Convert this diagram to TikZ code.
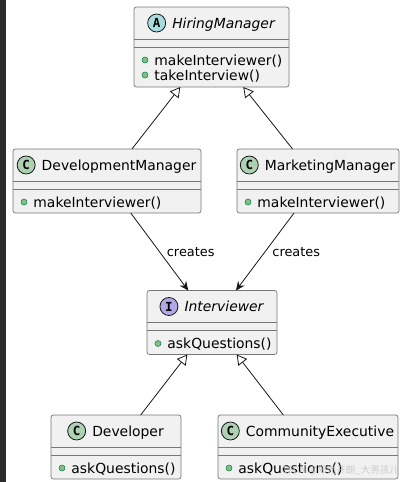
\documentclass[tikz,border=0pt]{standalone}
\usepackage{fontspec}
\setmainfont{DejaVu Sans}
\newfontfamily\iconfont{DejaVu Sans Mono}
\newfontfamily\cjk{Noto Sans CJK SC}
\usetikzlibrary{positioning,arrows.meta}

\definecolor{boxfill}{HTML}{F1F1F1}
\definecolor{boxline}{HTML}{777777}
\definecolor{edgeline}{HTML}{181818}
\definecolor{absicon}{HTML}{A9DCDF}
\definecolor{clsicon}{HTML}{ADD1B2}
\definecolor{itficon}{HTML}{B4A7E5}
\definecolor{dotfill}{HTML}{84BE84}
\definecolor{dotline}{HTML}{038048}
\definecolor{stripdark}{HTML}{2B2B2B}

\tikzset{
  classbox/.style={draw=boxline, line width=0.7pt, fill=boxfill, rounded corners=2.5pt,
    inner sep=0pt, outer sep=0pt, minimum height=64pt},
  sepline/.style={draw=boxline, line width=0.7pt},
  classicon/.style={circle, draw=edgeline, line width=0.8pt, minimum size=18pt, inner sep=0pt,
    font=\iconfont\bfseries\fontsize{12.5}{12.5}\selectfont},
  classname/.style={inner sep=0pt, text height=10pt, text depth=0pt,
    font=\fontsize{13.9}{16}\selectfont},
  member/.style={inner sep=0pt, text height=10pt, text depth=0pt,
    font=\fontsize{13.9}{16}\selectfont},
  pubdot/.style={circle, fill=dotfill, draw=dotline, line width=0.5pt, minimum size=6pt, inner sep=0pt},
  extends/.style={draw=edgeline, line width=0.8pt, -{Triangle[open, length=10pt, width=11pt]}},
  creates/.style={draw=edgeline, line width=0.8pt, -{Stealth[length=9pt, width=8pt, inset=3pt]}},
  edgelabel/.style={inner sep=0pt, anchor=west, xshift=7pt, font=\fontsize{12.9}{15}\selectfont}
}

\begin{document}
\begin{tikzpicture}[x=1pt, y=-1pt]
    % --- 画布 ---
    \fill[white] (0,0) rectangle (405,482);
    \useasboundingbox (0,0) rectangle (405,482);
    \fill[stripdark] (0,0) rectangle (6,482);

    % --- HiringManager (abstract) ---
    \node[classbox, minimum width=155pt, minimum height=80pt] (hm) at (211.5,47) {};
    \draw[sepline] ([yshift=-32pt]hm.north west) -- ([yshift=-32pt]hm.north east);
    \draw[sepline] ([yshift=-40pt]hm.north west) -- ([yshift=-40pt]hm.north east);
    \node[classname, font=\fontsize{13.9}{16}\selectfont\itshape] (hm-name) at ([xshift=12pt, yshift=-16pt]hm.north) {HiringManager};
    \node[classicon, fill=absicon, left=6pt of hm-name] (hm-icon) {A};
    \node[pubdot] (hm-d1) at ([xshift=11pt, yshift=-53pt]hm.north west) {};
    \node[member, right=6pt of hm-d1] (hm-m1) {makeInterviewer()};
    \node[pubdot] (hm-d2) at ([xshift=11pt, yshift=-68pt]hm.north west) {};
    \node[member, right=6pt of hm-d2] (hm-m2) {takeInterview()};

    % --- DevelopmentManager ---
    \node[classbox, minimum width=188pt] (dm) at (107,181) {};
    \draw[sepline] ([yshift=-32pt]dm.north west) -- ([yshift=-32pt]dm.north east);
    \draw[sepline] ([yshift=-40pt]dm.north west) -- ([yshift=-40pt]dm.north east);
    \node[classname] (dm-name) at ([xshift=12pt, yshift=-16pt]dm.north) {DevelopmentManager};
    \node[classicon, fill=clsicon, left=6pt of dm-name] (dm-icon) {C};
    \node[pubdot] (dm-d1) at ([xshift=11pt, yshift=-53pt]dm.north west) {};
    \node[member, right=6pt of dm-d1] (dm-m1) {makeInterviewer()};

    % --- MarketingManager ---
    \node[classbox, minimum width=162pt] (mm) at (318,181) {};
    \draw[sepline] ([yshift=-32pt]mm.north west) -- ([yshift=-32pt]mm.north east);
    \draw[sepline] ([yshift=-40pt]mm.north west) -- ([yshift=-40pt]mm.north east);
    \node[classname] (mm-name) at ([xshift=12pt, yshift=-16pt]mm.north) {MarketingManager};
    \node[classicon, fill=clsicon, left=6pt of mm-name] (mm-icon) {C};
    \node[pubdot] (mm-d1) at ([xshift=11pt, yshift=-53pt]mm.north west) {};
    \node[member, right=6pt of mm-d1] (mm-m1) {makeInterviewer()};

    % --- Interviewer (interface) ---
    \node[classbox, minimum width=130pt] (iv) at (212,322.5) {};
    \draw[sepline] ([yshift=-32pt]iv.north west) -- ([yshift=-32pt]iv.north east);
    \draw[sepline] ([yshift=-40pt]iv.north west) -- ([yshift=-40pt]iv.north east);
    \node[classname, font=\fontsize{13.9}{16}\selectfont\itshape] (iv-name) at ([xshift=12pt, yshift=-16pt]iv.north) {Interviewer};
    \node[classicon, fill=itficon, left=6pt of iv-name] (iv-icon) {I};
    \node[pubdot] (iv-d1) at ([xshift=11pt, yshift=-53pt]iv.north west) {};
    \node[member, right=6pt of iv-d1] (iv-m1) {askQuestions()};

    % --- Developer ---
    \node[classbox, minimum width=130pt] (dev) at (116,447) {};
    \draw[sepline] ([yshift=-32pt]dev.north west) -- ([yshift=-32pt]dev.north east);
    \draw[sepline] ([yshift=-40pt]dev.north west) -- ([yshift=-40pt]dev.north east);
    \node[classname] (dev-name) at ([xshift=12pt, yshift=-16pt]dev.north) {Developer};
    \node[classicon, fill=clsicon, left=6pt of dev-name] (dev-icon) {C};
    \node[pubdot] (dev-d1) at ([xshift=11pt, yshift=-53pt]dev.north west) {};
    \node[member, right=6pt of dev-d1] (dev-m1) {askQuestions()};

    % --- CommunityExecutive ---
    \node[classbox, minimum width=180pt] (ce) at (308,447) {};
    \draw[sepline] ([yshift=-32pt]ce.north west) -- ([yshift=-32pt]ce.north east);
    \draw[sepline] ([yshift=-40pt]ce.north west) -- ([yshift=-40pt]ce.north east);
    \node[classname] (ce-name) at ([xshift=12pt, yshift=-16pt]ce.north) {CommunityExecutive};
    \node[classicon, fill=clsicon, left=6pt of ce-name] (ce-icon) {C};
    \node[pubdot] (ce-d1) at ([xshift=11pt, yshift=-53pt]ce.north west) {};
    \node[member, right=6pt of ce-d1] (ce-m1) {askQuestions()};

    % --- 继承关系 ---
    \draw[extends] (dm) -- (hm);
    \draw[extends] (mm) -- (hm);
    \draw[extends] (dev) -- (iv);
    \draw[extends] (ce) -- (iv);

    % --- creates ---
    \draw[creates] (dm) -- node[edgelabel] (dm-lab) {creates} (iv);
    \draw[creates] (mm) -- node[edgelabel] (mm-lab) {creates} (iv);

    % 水印
    \node[anchor=east, inner sep=0pt, text=gray!40, font=\cjk\fontsize{9.5}{11}\selectfont] (mark) at (399,470) {CSDN @阳光开朗\_大男孩儿};
\end{tikzpicture}
\end{document}
